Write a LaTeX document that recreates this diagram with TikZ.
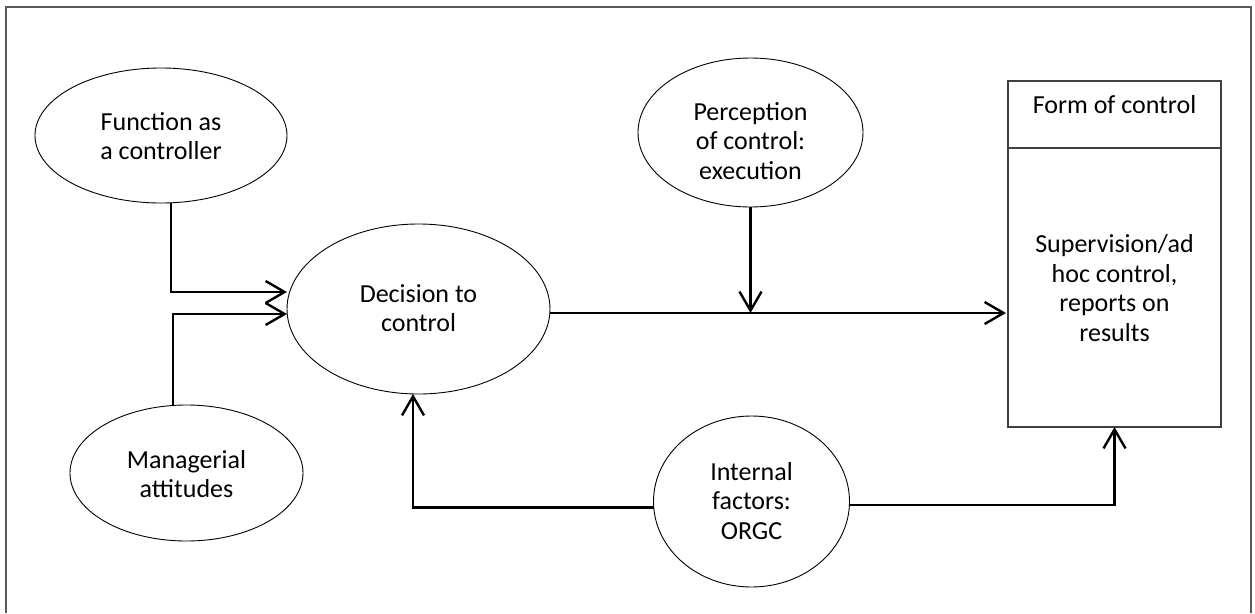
\documentclass[tikz,border=0pt]{standalone}
\usepackage{fontspec}
\setmainfont{Carlito}
\usetikzlibrary{shapes.geometric,arrows.meta}
\begin{document}
\begin{tikzpicture}[x=1pt,y=-1pt,
  ell/.style={ellipse,draw=black,line width=0.9pt,inner sep=0pt,outer sep=0pt},
  txt/.style={align=center,font=\fontsize{26}{29.5}\selectfont,inner sep=0pt},
  boxst/.style={rectangle,draw=black!75,line width=1.4pt,inner sep=0pt,outer sep=0pt},
  arr/.style={line width=2.4pt,-{Straight Barb[length=19pt,width=22pt,line width=2.4pt]},line join=miter},
  plainln/.style={line width=2.4pt}]
\useasboundingbox (0,0) rectangle (1255,613);
\draw[black!65,line width=1.5pt] (6,613) -- (6,7) -- (1251,7) -- (1251,613);

% ellipses
\node[ell,minimum width=252,minimum height=135] (fun) at (161,135.5) {};
\node[txt] (funt) at (161,136) {Function as\\a controller};
\node[ell,minimum width=233,minimum height=136] (man) at (186.5,473) {};
\node[txt] (mant) at (186.5,474) {Managerial\\attitudes};
\node[ell,minimum width=263,minimum height=170] (dec) at (418.5,309) {};
\node[txt] (dect) at (418.5,308) {Decision to\\control};
\node[ell,minimum width=225,minimum height=149] (perc) at (750.5,132.5) {};
\node[txt] (perct) at (750.5,141) {Perception\\of control:\\execution};
\node[ell,minimum width=196,minimum height=171] (int) at (751.5,501.5) {};
\node[txt] (intt) at (751.5,501) {Internal\\factors:\\ORGC};

% box
\node[boxst,minimum width=213,minimum height=346] (box) at (1114.5,254) {};
\draw[black!75,line width=1.4pt] ([yshift=-67pt]box.north west) -- ([yshift=-67pt]box.north east);
\node[txt] (boxh) at (1114.5,105) {Form of control};
\node[txt] (boxb) at (1114.5,288) {Supervision/ad\\hoc control,\\reports on\\results};

% connectors
\draw[arr] ([xshift=10pt]fun.south) |- ([yshift=17pt]dec.west);
\draw[arr] ([xshift=-13.5pt]man.north) |- ([yshift=-5pt]dec.west);
\coordinate (j) at ([yshift=-4pt]dec.east -| perc.south);
\draw[arr,shorten >=2pt] ([yshift=-4pt]dec.east) -- ([yshift=-4pt]dec.east -| box.west);
\draw[arr] (perc.south) -- (j);
\draw[arr] ([yshift=-6pt]int.west) -| ([xshift=-5.5pt]dec.south);
\draw[arr] ([yshift=-3.5pt]int.east) -| (box.south);
\end{tikzpicture}
\end{document}
